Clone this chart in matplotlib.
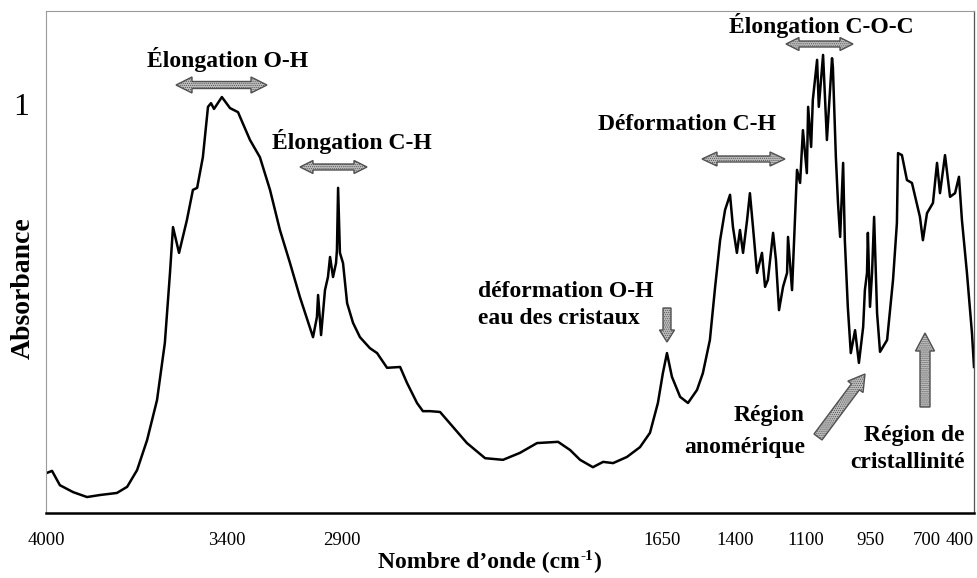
import numpy as np
import matplotlib
matplotlib.use("Agg")
import matplotlib.pyplot as plt
from matplotlib.patches import Polygon
from matplotlib.scale import FuncScale

# ---------------- data ----------------
wavenumber = [3997, 3980, 3954, 3910, 3864, 3821, 3765, 3731, 3698, 3665, 3632, 3606,
              3589, 3579, 3559, 3533, 3513, 3499, 3480, 3463, 3453, 3443, 3417,
              3387, 3352, 3343, 3300, 3257, 3213, 3170, 3126, 3083, 3026, 3009, 3004,
              2991, 2974, 2961, 2952, 2939, 2926, 2922, 2917, 2909,
              2896, 2880, 2857, 2830, 2791, 2763, 2724, 2673, 2646, 2607, 2584, 2556,
              2517, 2466, 2412, 2341, 2271, 2205, 2138, 2056, 2009, 1970, 1920, 1880,
              1841, 1787, 1736, 1697, 1666,
              1647, 1633, 1616, 1588, 1561, 1530, 1510, 1486, 1468, 1451, 1434, 1417, 1407,
              1392, 1379, 1366, 1349, 1337, 1324, 1307, 1286, 1273, 1261, 1239, 1227,
              1214, 1197, 1180, 1176, 1159, 1138, 1125, 1113,
              1098, 1095, 1088, 1084, 1074, 1070, 1060, 1051, 1039, 1037, 1030, 1025,
              1020, 1013, 1009, 1002, 995, 985, 976, 966, 962, 957, 955,
              950, 941, 932, 919, 906, 875, 849, 832, 827, 810, 788, 766, 731, 718,
              700, 662, 636, 617, 585, 553, 521, 496, 477, 445, 413, 400]
absorbance = [0.098, 0.103, 0.068, 0.051, 0.039, 0.044, 0.049, 0.064, 0.105, 0.178, 0.276, 0.416,
              0.587, 0.699, 0.636, 0.716, 0.790, 0.795, 0.870, 0.993, 1.002, 0.988, 1.017,
              0.990, 0.980, 0.968, 0.912, 0.870, 0.790, 0.692, 0.611, 0.528, 0.430, 0.479, 0.533,
              0.435, 0.545, 0.577, 0.626, 0.577, 0.611, 0.643, 0.795, 0.636,
              0.611, 0.513, 0.465, 0.430, 0.403, 0.391, 0.355, 0.357, 0.318, 0.269, 0.249, 0.249,
              0.247, 0.210, 0.171, 0.134, 0.130, 0.147, 0.171, 0.174, 0.154, 0.130, 0.112, 0.125,
              0.122, 0.137, 0.161, 0.196, 0.269,
              0.342, 0.391, 0.333, 0.284, 0.269, 0.301, 0.342, 0.423, 0.553, 0.667, 0.741, 0.778, 0.699,
              0.636, 0.692, 0.636, 0.716, 0.782, 0.699, 0.587, 0.636, 0.553, 0.570, 0.685, 0.619,
              0.496, 0.553, 0.587, 0.675, 0.545, 0.839, 0.807, 0.936,
              0.831, 0.993, 0.895, 1.010, 1.108, 0.993, 1.120, 0.912, 1.112, 1.090, 0.870, 0.758,
              0.675, 0.856, 0.667, 0.504, 0.391, 0.447, 0.367, 0.455, 0.545, 0.587, 0.685,
              0.504, 0.587, 0.724, 0.489, 0.394, 0.423, 0.570, 0.709, 0.880, 0.875, 0.814, 0.807, 0.724, 0.667,
              0.733, 0.758, 0.856, 0.782, 0.875, 0.773, 0.782, 0.822, 0.716, 0.587, 0.440, 0.357]

tick_values = [4000, 3400, 2900, 1650, 1400, 1100, 950, 700, 400]
tick_labels = ["4000", "3400", "2900", "1650", "1400", "1100", "950", "700", "400"]

# piecewise-linear axis (the reference's axis is not uniform)
scale_wn = [400, 700, 950, 1100, 1400, 1650, 2900, 3400, 4000]
scale_pos = [0, 47, 104, 168, 239, 312, 632, 747, 928]

def fwd(w):
    return np.interp(w, scale_wn, scale_pos)

def inv(p):
    return np.interp(p, scale_pos, scale_wn)

# ---------------- figure ----------------
W, H = 977, 578
fig = plt.figure(figsize=(W / 100, H / 100), dpi=100)
ax = fig.add_axes([46 / W, 1 - 513 / H, (974 - 46) / W, (513 - 11) / H])

ax.plot(wavenumber, absorbance, color="black", lw=1.8, solid_joinstyle="round")
ax.set_xscale(FuncScale(ax.xaxis, (fwd, inv)))
ax.set_xlim(4000, 400)
ax.set_ylim(0, (513 - 11) / 409)

ax.set_xticks(tick_values)
ax.set_xticklabels(tick_labels, fontfamily="Liberation Serif", fontsize=13.5)
ax.xaxis.set_minor_locator(matplotlib.ticker.NullLocator())
ax.tick_params(axis="x", length=0, pad=14)
ax.get_xticklabels()[-1].set_ha("right")

ax.set_yticks([1])
ax.set_yticklabels(["1"], fontfamily="Liberation Serif", fontsize=23)
ax.yaxis.set_minor_locator(matplotlib.ticker.NullLocator())
ax.tick_params(axis="y", length=0, pad=12)

for s in ["top", "left"]:
    ax.spines[s].set_color("#9a9a9a")
    ax.spines[s].set_linewidth(0.8)
ax.spines["right"].set_color("#555555")
ax.spines["right"].set_linewidth(0.9)
ax.spines["bottom"].set_color("black")
ax.spines["bottom"].set_linewidth(1.8)

serif_b = dict(fontfamily="Liberation Serif", fontweight="bold")

def ftext(x, y, s, size=17, ha="center", va="center", **kw):
    return fig.text(x / W, 1 - y / H, s, fontsize=size, ha=ha, va=va, **serif_b, **kw)

fig.text(23 / W, 1 - 288 / H, "Absorbance", rotation=90, fontsize=20,
         ha="center", va="center", **serif_b)

# x label composed of pieces: main text, superscript, closing parenthesis
renderer = fig.canvas.get_renderer()
t1 = ftext(0, 568, "Nombre d\u2019onde (cm", ha="left", va="baseline")
t2 = ftext(0, 560, "-1", size=11, ha="left", va="baseline")
t3 = ftext(0, 568, ")", ha="left", va="baseline")
w1 = t1.get_window_extent(renderer).width
w2 = t2.get_window_extent(renderer).width
w3 = t3.get_window_extent(renderer).width
x0 = 489 - (w1 + w2 + w3) / 2
t1.set_x(x0 / W)
t2.set_x((x0 + w1 + 1) / W)
t3.set_x((x0 + w1 + w2 + 1) / W)

ftext(228, 59, "Élongation O-H")
ftext(352, 142, "Élongation C-H")
ftext(687, 124, "Déformation C-H")
ftext(821, 25, "Élongation C-O-C")
ftext(478, 291, "déformation O-H", ha="left")
ftext(478, 319, "eau des cristaux", ha="left")
ftext(805, 415, "Région", ha="right")
ftext(805, 448, "anomérique", ha="right")
ftext(965, 435, "Région de", ha="right")
ftext(965, 463, "cristallinité", ha="right")

plt.rcParams["hatch.linewidth"] = 0.5

def arrow(p_tail, p_head, body_w, head_w, head_l, double=False):
    t = np.array(p_tail, float)
    h = np.array(p_head, float)
    d = h - t
    L = np.hypot(*d)
    u = d / L
    n = np.array([-u[1], u[0]])
    bw, hw = body_w / 2, head_w / 2
    pts = []
    if double:
        tb = t + u * head_l
        pts += [t, tb + n * hw, tb + n * bw]
    else:
        tb = t
        pts += [tb + n * bw]
    hb = h - u * head_l
    pts += [hb + n * bw, hb + n * hw, h, hb - n * hw, hb - n * bw]
    if double:
        pts += [tb - n * bw, tb - n * hw]
    else:
        pts += [tb - n * bw]
    pts = np.array(pts)
    frac = np.column_stack([pts[:, 0] / W, 1 - pts[:, 1] / H])
    poly = Polygon(frac, closed=True, transform=fig.transFigure,
                   facecolor="#bdbdbd", edgecolor="#505050", lw=1.0,
                   hatch="........", zorder=5)
    fig.add_artist(poly)

arrow((176, 85), (267, 85), 7, 16, 16, double=True)
arrow((300, 167), (367, 167), 6, 13, 13, double=True)
arrow((702, 159), (785, 159), 6, 14, 15, double=True)
arrow((786, 44), (853, 44), 6, 13, 13, double=True)
arrow((667, 308), (667, 342), 8, 15, 12)
arrow((818, 437), (865, 374), 10, 19, 16)
arrow((925, 407), (925, 333), 10, 19, 18)

fig.savefig("out.png", dpi=100)
